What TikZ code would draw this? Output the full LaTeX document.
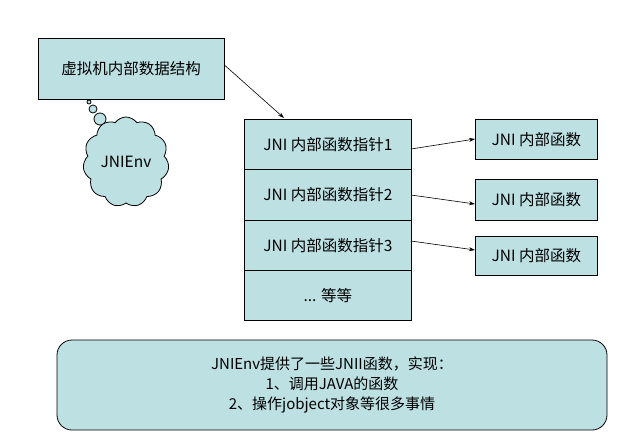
\documentclass[tikz,border=0pt]{standalone}
\usepackage{fontspec}
\setmainfont{Noto Sans CJK SC}
\usetikzlibrary{shapes.symbols,arrows.meta}
\definecolor{boxfill}{RGB}{189,224,227}
\tikzset{
  box/.style={draw=black, fill=boxfill, line width=0.8pt, inner sep=0pt, font=\fontsize{15.5}{18}\selectfont},
  conn/.style={draw=black, line width=0.6pt, -{Stealth[length=6pt,width=4pt]}},
}
\begin{document}
\begin{tikzpicture}[x=1pt,y=-1pt]
\useasboundingbox (0,0) rectangle (624,442);
% top box
\node[box, minimum width=186pt, minimum height=61pt] (vm) at (131,68.5) {虚拟机内部数据结构};
% thought bubbles
\node[box, circle, minimum size=4pt] (b1) at (89,102) {};
\node[box, circle, minimum size=8pt] (b2) at (93,109) {};
\node[box, circle, minimum size=12pt] (b3) at (100,119) {};
\node[box, cloud, cloud puffs=11, cloud puff arc=110, aspect=0.95, minimum width=86pt, minimum height=90pt] (env) at (126,162) {JNIEnv};
% table
\node[box, minimum width=167pt, minimum height=50pt, anchor=north west] (r1) at (244,119) {JNI 内部函数指针1};
\node[box, minimum width=167pt, minimum height=51pt, anchor=north west] (r2) at (244,169) {JNI 内部函数指针2};
\node[box, minimum width=167pt, minimum height=50pt, anchor=north west] (r3) at (244,220) {JNI 内部函数指针3};
\node[box, minimum width=167pt, minimum height=50pt, anchor=north west] (r4) at (244,270) {... 等等};
% right boxes
\node[box, minimum width=122pt, minimum height=40pt, anchor=north west] (f1) at (475,119) {JNI 内部函数};
\node[box, minimum width=122pt, minimum height=41pt, anchor=north west] (f2) at (475,179) {JNI 内部函数};
\node[box, minimum width=122pt, minimum height=39pt, anchor=north west] (f3) at (475,236) {JNI 内部函数};
% connectors
\draw[conn] (vm.east |- 0,65) -- (284,118);
\coordinate (p1) at (411,149);
\coordinate (p2) at (411,195);
\coordinate (p3) at (411,241);
\draw[conn] (p1) -- (f1.west |- 0,139);
\draw[conn] (p2) -- (f2.west |- 0,204);
\draw[conn] (p3) -- (f3.west |- 0,250);
% bottom note
\node[box, rounded corners=15pt, minimum width=550pt, minimum height=90pt, align=center, font=\fontsize{15}{20}\selectfont] (note) at (332,385)
  {JNIEnv提供了一些JNII函数，实现：\\1、调用JAVA的函数\\2、操作jobject对象等很多事情};
\end{tikzpicture}
\end{document}
